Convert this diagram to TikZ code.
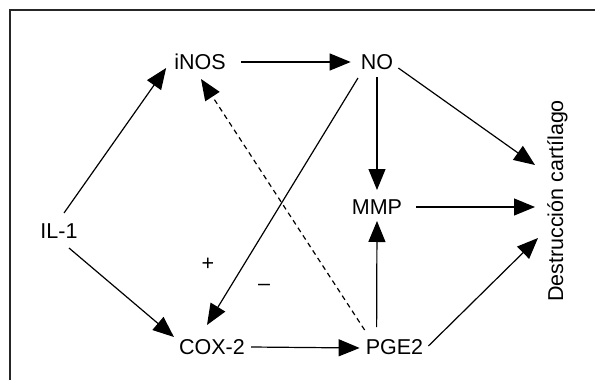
\documentclass[tikz,border=0pt]{standalone}
\usepackage{fontspec}
\setmainfont{Liberation Sans}
\usetikzlibrary{arrows.meta,calc}
\begin{document}
\begin{tikzpicture}[x=1pt,y=-1pt,
  lbl/.style={anchor=base,inner sep=0pt,font=\fontsize{21.5}{25}\selectfont},
  conn/.style={line width=1.2pt,-{Triangle[length=21pt,width=17pt]}},
  dconn/.style={conn,dash pattern=on 5pt off 4pt}]
\useasboundingbox (0,0) rectangle (595,380);
\draw[line width=1.5pt,black!85] (10,380) -- (10,10) -- (595,10);
\node[lbl] (inos) at (200,69) {iNOS};
\node[lbl] (no) at (377,69) {NO};
\node[lbl] (il1) at (59,238) {IL-1};
\node[lbl] (mmp) at (377,214) {MMP};
\node[lbl] (cox) at (212,354) {COX-2};
\node[lbl] (pge) at (394.5,354) {PGE2};
\node[lbl,rotate=90] (dest) at (563,201) {Destrucción cartílago};
\node[lbl] (plus) at (208,270) {+};
\node[lbl] (minus) at (264,290) {–};
% connectors
\draw[conn] ($(il1.base)+(5,-25)$) -- ($(inos.base west)+(-8,-1)$);
\draw[conn] ($(il1.base)+(10,10)$) -- ($(cox.base west)+(-5,-17)$);
\draw[conn] ($(inos.base east)+(15,-7)$) -- ($(no.base west)+(-10,-7)$);
\draw[conn] ($(no.base)+(-19,9)$) -- ($(cox.base)+(-5,-29)$);
\draw[conn] ($(no.base)+(0,8)$) -- ($(mmp.base)+(0,-24)$);
\draw[conn] ($(no.base east)+(5,-1)$) -- ($(dest.base)+(-28,-36)$);
\draw[conn] ($(mmp.base east)+(14,-7)$) -- ($(dest.base)+(-28,6)$);
\draw[conn] ($(pge.base west)+(11,-27)$) -- ($(mmp.base)+(0,7)$);
\draw[conn] ($(pge.base east)+(5,-8)$) -- ($(dest.base)+(-25,37)$);
\draw[conn] ($(cox.base east)+(6,-7)$) -- ($(pge.base west)+(-6,-6)$);
\draw[dconn] ($(pge.base west)+(-1,-24)$) -- ($(inos.base)+(1,10)$);
\end{tikzpicture}
\end{document}
